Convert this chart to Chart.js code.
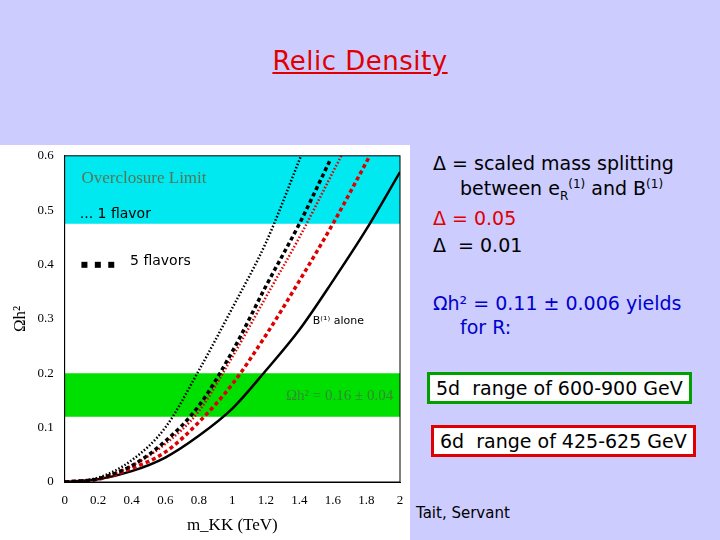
<!DOCTYPE html>
<html>
<head>
<meta charset="UTF-8">
<style>
  body { margin:0; width:720px; height:540px; background:#ccccff; position:relative; overflow:hidden; font-family:"DejaVu Sans", sans-serif; }
  #title { position:absolute; top:46px; left:0; width:720px; text-align:center; color:#e00000; font-size:26px; text-decoration:underline; letter-spacing:0.5px; }
  #plot { position:absolute; left:0; top:145px; width:410px; height:395px; background:#fff; }
  .t { position:absolute; font-size:19px; }
  .box { position:absolute; font-size:19px; background:#fff; padding:2px 6px; }
</style>
</head>
<body>
<div id="title">Relic Density</div>
<div id="plot"><canvas id="grafico" width="410" height="395"></canvas></div>

<div class="t" style="left:433px;top:152px;">Δ = scaled mass splitting</div>
<div class="t" style="left:460px;top:177px;">between e<sub style="font-size:12px">R</sub><sup style="font-size:12px">(1)</sup> and B<sup style="font-size:12px">(1)</sup></div>
<div class="t" style="left:433px;top:207px;color:#e00000;">Δ = 0.05</div>
<div class="t" style="left:433px;top:234px;">Δ&nbsp; = 0.01</div>
<div class="t" style="left:433px;top:292px;color:#0000cc;">Ωh² = 0.11 ± 0.006 yields</div>
<div class="t" style="left:460px;top:316px;color:#0000cc;">for R:</div>
<div class="box" style="left:427px;top:372px;border:3px solid #00a000;">5d&nbsp; range of 600-900 GeV</div>
<div class="box" style="left:431px;top:425px;border:3px solid #e00000;">6d&nbsp; range of 425-625 GeV</div>
<div class="t" style="left:416px;top:504px;font-size:15px;">Tait, Servant</div>

<script src="https://cdn.jsdelivr.net/npm/chart.js"></script>
<script>
  // curves: [m_KK (TeV), Omega h^2]
  const solidoPreto = [[0,0],[0.2,0.005],[0.4,0.02],[0.6,0.045],[0.8,0.085],[1.0,0.135],[1.2,0.205],[1.4,0.28],[1.6,0.37],[1.8,0.465],[2.0,0.57]];
  const tracoVermelho = [[0,0],[0.2,0.005],[0.4,0.025],[0.6,0.055],[0.8,0.11],[1.0,0.18],[1.2,0.27],[1.4,0.37],[1.6,0.475],[1.82,0.6]];
  const pontoVermelho = [[0,0],[0.2,0.006],[0.4,0.03],[0.6,0.07],[0.8,0.13],[1.0,0.23],[1.2,0.34],[1.4,0.45],[1.6,0.57],[1.65,0.6]];
  const tracoPreto = [[0,0],[0.2,0.006],[0.4,0.03],[0.6,0.075],[0.8,0.14],[1.0,0.24],[1.2,0.36],[1.4,0.475],[1.58,0.59]];
  const pontoPreto = [[0,0],[0.2,0.008],[0.4,0.04],[0.6,0.1],[0.8,0.205],[1.0,0.32],[1.2,0.44],[1.41,0.6]];
  const faixaOverclosure = [0.475, 0.6];
  const faixaVerde = [0.12, 0.2];

  const xy = arr => arr.map(p => ({x: p[0], y: p[1]}));

  function serie(dados, cor, dash, largura) {
    return { data: xy(dados), borderColor: cor, borderDash: dash, borderWidth: largura,
             pointRadius: 0, cubicInterpolationMode: 'monotone', fill: false };
  }

  const faixas = {
    id: 'faixas',
    beforeDatasetsDraw(chart) {
      const {ctx, chartArea: a, scales: {x, y}} = chart;
      ctx.save();
      ctx.fillStyle = '#00e8f0';
      ctx.fillRect(a.left, y.getPixelForValue(faixaOverclosure[1]), a.width, y.getPixelForValue(faixaOverclosure[0]) - y.getPixelForValue(faixaOverclosure[1]));
      ctx.fillStyle = '#00e000';
      ctx.fillRect(a.left, y.getPixelForValue(faixaVerde[1]), a.width, y.getPixelForValue(faixaVerde[0]) - y.getPixelForValue(faixaVerde[1]));
      ctx.font = '17px "Liberation Serif"';
      ctx.fillStyle = '#557755';
      ctx.fillText('Overclosure Limit', x.getPixelForValue(0.1), y.getPixelForValue(0.55));
      ctx.fillStyle = '#338833';
      ctx.textAlign = 'right';
      ctx.font = '15px "Liberation Serif"';
      ctx.fillText('Ωh² = 0.16 ± 0.04', x.getPixelForValue(1.96), y.getPixelForValue(0.15));
      ctx.textAlign = 'left';
      ctx.fillStyle = '#000';
      ctx.font = '14px "DejaVu Sans"';
      ctx.fillText('... 1 flavor', x.getPixelForValue(0.09), y.getPixelForValue(0.485));
      ctx.fillText('5 flavors', x.getPixelForValue(0.39), y.getPixelForValue(0.4));
      ctx.fillRect(x.getPixelForValue(0.1), y.getPixelForValue(0.405), 6, 6);
      ctx.fillRect(x.getPixelForValue(0.18), y.getPixelForValue(0.405), 6, 6);
      ctx.fillRect(x.getPixelForValue(0.26), y.getPixelForValue(0.405), 6, 6);
      ctx.font = '11px "DejaVu Sans"';
      ctx.fillText('B⁽¹⁾ alone', x.getPixelForValue(1.48), y.getPixelForValue(0.29));
      ctx.restore();
    },
    afterDatasetsDraw(chart) {
      const {ctx, chartArea: a} = chart;
      ctx.save();
      ctx.strokeStyle = '#000';
      ctx.lineWidth = 1;
      ctx.strokeRect(a.left, a.top, a.width, a.height);
      ctx.restore();
    }
  };

  new Chart(document.getElementById('grafico'), {
    type: 'line',
    data: { datasets: [
      serie(pontoPreto, '#000', [1.5, 2], 2.5),
      serie(tracoPreto, '#000', [4, 3], 3.5),
      serie(pontoVermelho, '#dd0000', [1.5, 2], 2.5),
      serie(tracoVermelho, '#dd0000', [4, 3], 3.5),
      serie(solidoPreto, '#000', [], 2.5)
    ]},
    options: {
      responsive: false, animation: false,
      layout: { padding: { top: 8, right: 10, left: 6 } },
      plugins: { legend: { display: false }, tooltip: { enabled: false } },
      scales: {
        x: { type: 'linear', min: 0, max: 2,
             ticks: { stepSize: 0.2, color: '#000', font: { family: 'Liberation Serif', size: 13 },
                      callback: v => Math.round(v*10)/10 },
             grid: { display: false }, border: { color: '#000' },
             title: { display: true, text: 'm_KK (TeV)', color: '#000', font: { family: 'Liberation Serif', size: 17 } } },
        y: { min: 0, max: 0.6,
             ticks: { stepSize: 0.1, color: '#000', font: { family: 'Liberation Serif', size: 13 },
                      callback: v => Math.round(v*10)/10 },
             grid: { display: false }, border: { color: '#000' },
             title: { display: true, text: 'Ωh²', color: '#000', font: { family: 'Liberation Serif', size: 17 } } }
      }
    },
    plugins: [faixas]
  });
</script>
</body>
</html>
